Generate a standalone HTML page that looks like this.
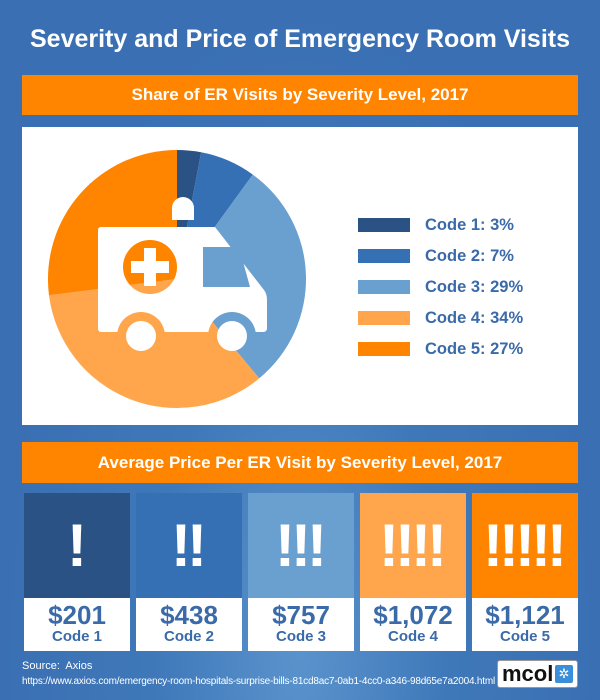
<!DOCTYPE html>
<html><head><style>
body{margin:0;width:600px;height:700px;overflow:hidden;background:radial-gradient(ellipse at 300px 650px,#5a93cc 0,#3f78b9 35%,#3a70b3 70%);font-family:"Liberation Sans",sans-serif;position:relative}
.t{position:absolute;left:0;width:600px;text-align:center;color:#fff;font-weight:bold}
.ban{position:absolute;left:22px;width:556px;background:#ff8400;color:#fff;font-weight:bold;text-align:center;font-size:17px}
.box{position:absolute;top:493px;width:106px;height:105px;color:#fff;font-weight:bold;font-size:60px;text-align:center;line-height:105px;letter-spacing:-4px;text-indent:-4px}
.wb{position:absolute;top:598px;width:106px;height:53px;background:#fff;text-align:center;color:#3a6aa8;font-weight:bold}
.wb b{display:block;font-size:26px;margin-top:4px;line-height:26px}
.wb span{display:block;font-size:15px;line-height:18px}
.lg{position:absolute;left:358px;width:52px;height:14px}
.lt{position:absolute;left:425px;color:#3a6aa8;font-weight:bold;font-size:16.5px;line-height:16px}
</style></head><body>
<div class="t" style="top:25px;font-size:25px">Severity and Price of Emergency Room Visits</div>
<div class="ban" style="top:75px;height:40px;line-height:40px">Share of ER Visits by Severity Level, 2017</div>
<div style="position:absolute;left:22px;top:127px;width:556px;height:298px;background:#fff"></div>
<svg style="position:absolute;left:0;top:0" width="600" height="700">
<defs><mask id="m"><rect width="600" height="700" fill="#fff"/><circle cx="141" cy="336" r="24" fill="#000"/><circle cx="232" cy="336" r="24" fill="#000"/><circle cx="150" cy="267" r="27" fill="#000"/><path d="M203 247H239L250 287H203Z" fill="#000"/></mask></defs>
<g transform="translate(177,279)">
<path d="M0 0L0 -129A129 129 0 0 1 24.2 -126.7Z" fill="#2a5285"/>
<path d="M0 0L24.2 -126.7A129 129 0 0 1 75.8 -104.4Z" fill="#3670b4"/>
<path d="M0 0L75.8 -104.4A129 129 0 0 1 82.2 99.4Z" fill="#6aa0cf"/>
<path d="M0 0L82.2 99.4A129 129 0 0 1 -128 16.2Z" fill="#ffa64d"/>
<path d="M0 0L-128 16.2A129 129 0 0 1 0 -129Z" fill="#ff8400"/>
</g>
<path d="M172 220V208A11 11 0 0 1 194 208V220Z" fill="#fff"/>
<path d="M101 227H215L264 290Q267 294 267 300V328Q267 332 263 332H101Q98 332 98 328V230Q98 227 101 227Z" fill="#fff" mask="url(#m)"/>
<circle cx="141" cy="336" r="15" fill="#fff"/><circle cx="232" cy="336" r="15" fill="#fff"/>
<path d="M144 248h12v13h13v12h-13v13h-12v-13h-13v-12h13z" fill="#fff"/>
</svg>
<div class="lg" style="top:218px;background:#2a5285"></div><div class="lt" style="top:217px">Code 1: 3%</div>
<div class="lg" style="top:249px;background:#3670b4"></div><div class="lt" style="top:248px">Code 2: 7%</div>
<div class="lg" style="top:280px;background:#6aa0cf"></div><div class="lt" style="top:279px">Code 3: 29%</div>
<div class="lg" style="top:311px;background:#ffa64d"></div><div class="lt" style="top:310px">Code 4: 34%</div>
<div class="lg" style="top:342px;background:#ff8400"></div><div class="lt" style="top:341px">Code 5: 27%</div>
<div class="ban" style="top:442px;height:41px;line-height:41px">Average Price Per ER Visit by Severity Level, 2017</div>
<div class="box" style="left:24px;background:#2a5285">!</div>
<div class="box" style="left:136px;background:#3670b4">!!</div>
<div class="box" style="left:248px;background:#6aa0cf">!!!</div>
<div class="box" style="left:360px;background:#ffa64d">!!!!</div>
<div class="box" style="left:472px;background:#ff8400">!!!!!</div>
<div class="wb" style="left:24px"><b>$201</b><span>Code 1</span></div>
<div class="wb" style="left:136px"><b>$438</b><span>Code 2</span></div>
<div class="wb" style="left:248px"><b>$757</b><span>Code 3</span></div>
<div class="wb" style="left:360px"><b>$1,072</b><span>Code 4</span></div>
<div class="wb" style="left:472px"><b>$1,121</b><span>Code 5</span></div>
<div style="position:absolute;left:22px;top:660px;color:#fff;font-size:11px">Source:&nbsp; Axios</div>
<div style="position:absolute;left:22px;top:676px;color:#fff;font-size:10px;letter-spacing:-0.2px">https://www.axios.com/emergency-room-hospitals-surprise-bills-81cd8ac7-0ab1-4cc0-a346-98d65e7a2004.html</div>
<div style="position:absolute;left:497px;top:660px;width:79px;height:26px;background:#fff;border-radius:3px;border:1px solid #999"><span style="position:absolute;left:4px;top:0;font-size:22px;font-weight:bold;color:#111;line-height:26px">mcol</span><span style="position:absolute;left:57px;top:4px;width:18px;height:18px;background:#3a8fd8;border-radius:2px;color:#fff;font-size:13px;text-align:center;line-height:18px">✲</span></div>
</body></html>
